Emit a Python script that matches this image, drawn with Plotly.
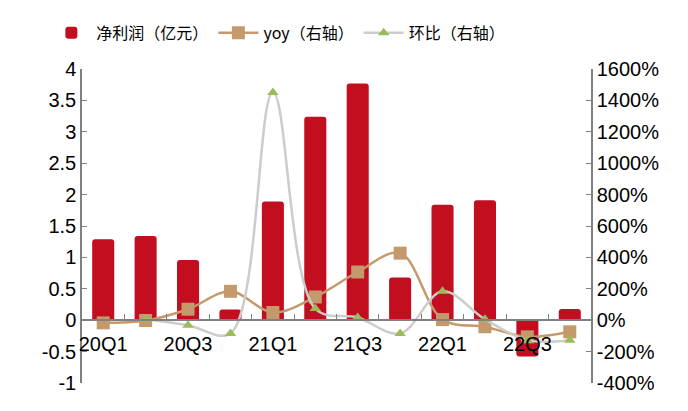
import plotly.graph_objects as go

quarters = ["20Q1", "20Q2", "20Q3", "20Q4", "21Q1", "21Q2",
            "21Q3", "21Q4", "22Q1", "22Q2", "22Q3", "22Q4"]
net_profit = [1.29, 1.34, 0.96, 0.17, 1.89, 3.24, 3.77, 0.68, 1.84, 1.91, -0.58, 0.18]
yoy = [-17, -2, 70, 184, 49, 148, 307, 427, 4, -42, -106, -74]
qoq = [None, 4, -32, -84, 1450, 74, 17, -84, 184, 6, -127, -127]

left_ticks = [-1, -0.5, 0, 0.5, 1, 1.5, 2, 2.5, 3, 3.5, 4]
left_labels = ["-1", "-0.5", "0", "0.5", "1", "1.5", "2", "2.5", "3", "3.5", "4"]
right_ticks = list(range(-400, 1601, 200))
right_labels = [f"{v}%" for v in right_ticks]

tick_text = [q if i % 2 == 0 else "" for i, q in enumerate(quarters)]

RED = "#C20E1F"
TAN = "#C49A6C"
GREY = "#CCCCCC"
GREEN = "#9BBB59"
AXIS = "#808080"
FONT = "Liberation Sans, Arial, sans-serif"

fig = go.Figure()

fig.add_trace(go.Bar(
    x=quarters, y=net_profit, name="净利润（亿元）",
    marker=dict(color=RED, cornerradius=3, line=dict(width=0)),
    width=0.52,
))

fig.add_trace(go.Scatter(
    x=quarters, y=yoy, name="yoy（右轴）", yaxis="y2",
    mode="lines+markers",
    line=dict(color=TAN, width=2.5, shape="spline", smoothing=1),
    marker=dict(symbol="square", size=13, color=TAN),
))

fig.add_trace(go.Scatter(
    x=quarters, y=qoq, name="环比（右轴）", yaxis="y2",
    mode="lines+markers", connectgaps=False,
    line=dict(color=GREY, width=2.5, shape="spline", smoothing=1),
    marker=dict(symbol="triangle-up", size=10, color=GREEN),
))

fig.update_layout(
    width=688, height=411,
    margin=dict(l=82, r=97, t=69, b=28, autoexpand=False),
    paper_bgcolor="white", plot_bgcolor="white",
    font=dict(family=FONT, size=20, color="black"),
    showlegend=True,
    legend=dict(
        orientation="h", x=-0.07, xanchor="left", y=1.115, yanchor="middle",
        font=dict(family="Noto Sans CJK SC", size=16),
        itemwidth=40, tracegroupgap=0, bgcolor="rgba(0,0,0,0)",
    ),
    xaxis=dict(
        type="category", range=[-0.5, 11.5],
        tickmode="array", tickvals=quarters, ticktext=tick_text,
        tickson="boundaries", ticks="inside", ticklen=5, tickcolor=AXIS,
        showline=True, linecolor=AXIS, linewidth=1.5,
        showgrid=False, zeroline=False, tickangle=0,
        anchor="free", position=0.2, ticklabelstandoff=6,
        tickfont=dict(size=20),
    ),
    yaxis=dict(
        range=[-1, 4], tickmode="array", tickvals=left_ticks, ticktext=left_labels,
        ticks="inside", ticklen=5, tickcolor=AXIS,
        showline=True, linecolor=AXIS, linewidth=1.5,
        showgrid=False, zeroline=False,
        tickfont=dict(size=20),
    ),
    yaxis2=dict(
        overlaying="y", side="right",
        range=[-400, 1600], tickmode="array", tickvals=right_ticks, ticktext=right_labels,
        ticks="inside", ticklen=5, tickcolor=AXIS,
        showline=True, linecolor=AXIS, linewidth=1.5,
        showgrid=False, zeroline=False,
        tickfont=dict(size=20),
    ),
)

# drop the browser's default page margin so the figure sits at (0, 0)
fig.write_html("out.html", config={"displayModeBar": False},
               post_script="document.body.style.margin='0';")
